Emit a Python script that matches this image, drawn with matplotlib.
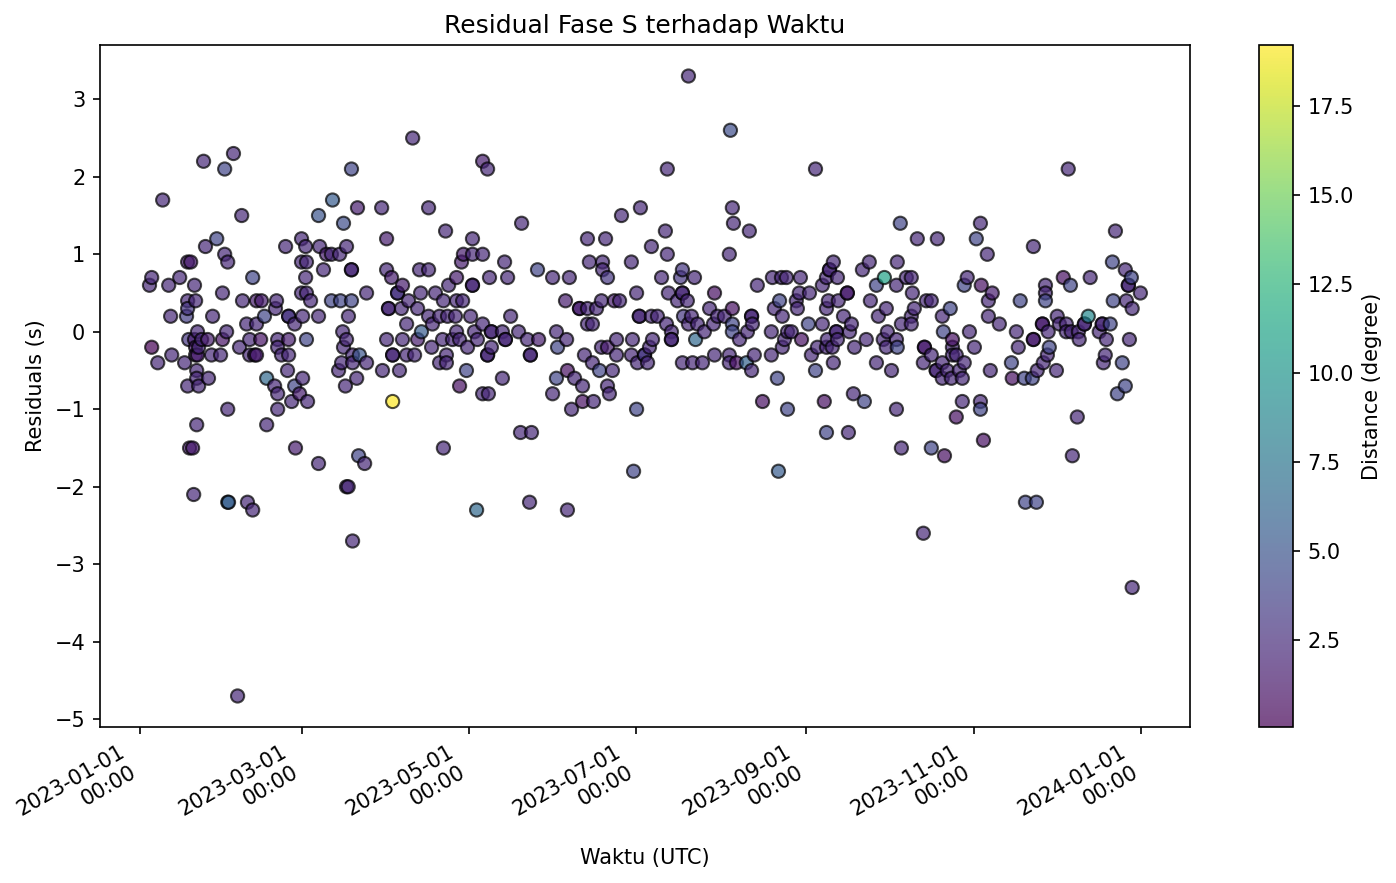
import numpy as np
import pandas as pd
import matplotlib
matplotlib.use('Agg')
import matplotlib.pyplot as plt
import matplotlib.dates as mdates

# day of year 2023 (days after 2023-01-01 00:00), residual (s), epicentral distance (deg)
# january - mid february
jf_day = [34.2, 23.3, 31.0, 8.4, 37.2, 28.1, 24.0, 31.0, 32.1, 17.5,
          18.6, 4.4, 3.6, 14.6, 10.6, 20.0, 41.2, 30.2, 17.5, 20.4,
          37.5, 42.6, 44.4, 17.5, 17.1, 11.3, 26.6, 45.5, 39.0, 42.6,
          21.1, 31.7, 17.9, 24.8, 30.2, 40.1, 44.1, 4.4, 20.4, 36.4,
          11.7, 6.6, 16.4, 21.1, 26.2, 29.5, 40.1, 42.6, 41.9, 20.8,
          25.1, 20.8, 17.5, 21.5, 46.3, 32.1, 20.8, 46.3, 18.2, 19.3,
          19.7, 32.1, 32.4, 39.3, 41.2, 35.7, 20.0, 20.4, 21.5, 22.6]
jf_res = [2.3, 2.2, 2.1, 1.7, 1.5, 1.2, 1.1, 1.0, 0.9, 0.9,
          0.9, 0.7, 0.6, 0.7, 0.6, 0.6, 0.7, 0.5, 0.4, 0.4,
          0.4, 0.4, 0.4, 0.3, 0.2, 0.2, 0.2, 0.2, 0.1, 0.1,
          0.0, 0.0, -0.1, -0.1, -0.1, -0.1, -0.1, -0.2, -0.2, -0.2,
          -0.3, -0.4, -0.4, -0.3, -0.3, -0.3, -0.3, -0.3, -0.3, -0.5,
          -0.6, -0.6, -0.7, -0.7, -0.6, -1.0, -1.2, -1.2, -1.5, -1.5,
          -2.1, -2.2, -2.2, -2.2, -2.3, -4.7, -0.1, -0.3, -0.2, -0.1]
jf_dist = [2.2, 2.2, 4.0, 2.2, 2.2, 4.0, 2.2, 2.2, 2.2, 1.5,
           1.5, 2.2, 2.2, 2.2, 2.2, 2.2, 4.0, 2.2, 2.2, 2.2,
           2.2, 1.5, 1.5, 3.0, 3.5, 2.2, 2.2, 4.0, 2.2, 2.2,
           2.2, 2.2, 3.0, 1.5, 1.0, 2.2, 1.0, 0.05, 1.5, 2.2,
           2.2, 2.2, 2.2, 1.5, 2.2, 2.2, 2.2, 1.5, 1.5, 2.2,
           2.2, 2.2, 2.2, 2.2, 6.5, 2.2, 2.2, 2.2, 1.5, 1.5,
           2.2, 6.5, 5.5, 2.2, 2.2, 2.2, 1.5, 1.5, 2.2, 2.2]

# mid february - april
fa_day = [99.5, 77.2, 70.3, 79.4, 88.2, 105.3, 65.2, 74.3, 111.5, 59.0,
          90.0, 53.2, 60.5, 65.6, 75.4, 68.1, 69.9, 72.9, 59.0, 60.8,
          67.0, 77.2, 77.2, 90.0, 102.0, 105.3, 60.5, 91.8, 95.8, 94.0,
          94.0, 59.0, 60.8, 82.7, 102.4, 107.8, 49.9, 62.3, 69.9, 73.2,
          77.2, 98.0, 110.7, 90.7, 90.7, 95.4, 101.3, 49.5, 54.3, 54.3,
          59.4, 65.2, 76.1, 105.3, 109.3, 112.2, 56.5, 97.3, 106.7, 74.0,
          102.7, 50.3, 54.3, 60.8, 75.4, 90.0, 95.8, 101.3, 110.4, 50.3,
          74.3, 106.4, 51.7, 54.3, 77.6, 80.1, 92.2, 92.2, 97.3, 100.2,
          73.6, 77.6, 82.7, 109.3, 53.9, 72.5, 88.5, 94.7, 59.4, 79.1,
          49.2, 56.5, 75.0, 50.3, 58.3, 55.4, 61.2, 92.2, 50.3, 56.8,
          110.7, 65.2, 79.8, 82.0, 75.4, 76.0, 77.6]
fa_res = [2.5, 2.1, 1.7, 1.6, 1.6, 1.6, 1.5, 1.4, 1.3, 1.2,
          1.2, 1.1, 1.1, 1.1, 1.1, 1.0, 1.0, 1.0, 0.9, 0.9,
          0.8, 0.8, 0.8, 0.8, 0.8, 0.8, 0.7, 0.7, 0.6, 0.5,
          0.5, 0.5, 0.5, 0.5, 0.5, 0.5, 0.4, 0.4, 0.4, 0.4,
          0.4, 0.4, 0.4, 0.3, 0.3, 0.3, 0.3, 0.3, 0.2, 0.2,
          0.2, 0.2, 0.2, 0.2, 0.2, 0.2, 0.1, 0.1, 0.1, 0.0,
          0.0, -0.1, -0.1, -0.1, -0.1, -0.1, -0.1, -0.1, -0.1, -0.2,
          -0.2, -0.2, -0.3, -0.3, -0.3, -0.3, -0.3, -0.3, -0.3, -0.3,
          -0.4, -0.4, -0.4, -0.4, -0.5, -0.5, -0.5, -0.5, -0.6, -0.6,
          -0.7, -0.7, -0.7, -0.8, -0.8, -0.9, -0.9, -0.9, -1.0, -1.5,
          -1.5, -1.7, -1.6, -1.7, -2.0, -2.0, -2.7]
fa_dist = [2.2, 4.0, 5.5, 1.5, 2.2, 2.2, 5.0, 4.5, 2.2, 2.2,
           1.5, 2.2, 2.2, 2.2, 2.2, 1.5, 2.2, 2.2, 2.2, 2.2,
           2.2, 2.2, 2.2, 2.2, 2.2, 2.2, 2.2, 1.5, 1.5, 2.2,
           3.0, 2.2, 2.2, 2.2, 2.2, 2.2, 2.2, 2.2, 4.0, 4.0,
           4.0, 2.2, 2.2, 2.2, 2.2, 2.2, 2.2, 2.2, 2.2, 3.0,
           2.2, 2.2, 2.2, 2.2, 2.2, 2.2, 2.2, 2.2, 2.2, 2.2,
           5.5, 2.2, 1.5, 4.0, 2.2, 2.2, 2.2, 1.5, 2.2, 2.2,
           2.2, 2.2, 2.2, 2.2, 2.2, 5.0, 2.2, 2.2, 2.2, 2.2,
           2.2, 2.2, 2.2, 2.2, 2.2, 2.2, 2.2, 2.2, 2.2, 2.2,
           2.2, 4.0, 2.2, 2.2, 1.5, 2.2, 2.2, 19.2, 2.2, 1.5,
           2.2, 2.2, 4.0, 2.2, 2.2, 2.2, 2.2]

# may - june
mj_day = [125.0, 126.8, 139.2, 121.3, 163.2, 169.8, 118.0, 121.3, 125.0, 117.3,
          133.0, 163.9, 168.7, 145.0, 168.7, 115.5, 127.5, 134.1, 150.5, 156.6,
          170.5, 112.6, 121.3, 121.3, 115.5, 117.7, 155.2, 168.3, 173.0, 160.3,
          160.3, 163.2, 166.5, 115.1, 120.6, 135.2, 125.0, 163.2, 165.0, 115.5,
          122.0, 128.2, 128.2, 132.2, 138.1, 151.9, 114.0, 116.6, 123.1, 133.3,
          133.3, 141.3, 145.4, 155.6, 119.5, 128.2, 152.3, 168.3, 170.5, 126.8,
          126.8, 142.4, 142.4, 162.1, 111.8, 111.8, 165.0, 119.1, 155.9, 167.6,
          172.3, 116.6, 132.2, 151.9, 158.5, 161.4, 170.5, 125.0, 127.1, 150.5,
          171.2, 161.4, 165.4, 157.4, 138.8, 142.8, 122.8, 142.1, 155.9]
mj_res = [2.2, 2.1, 1.4, 1.2, 1.2, 1.2, 1.0, 1.0, 1.0, 0.9,
          0.9, 0.9, 0.9, 0.8, 0.8, 0.7, 0.7, 0.7, 0.7, 0.7,
          0.7, 0.6, 0.6, 0.6, 0.4, 0.4, 0.4, 0.4, 0.4, 0.3,
          0.3, 0.3, 0.3, 0.2, 0.2, 0.2, 0.1, 0.1, 0.1, 0.0,
          0.0, 0.0, 0.0, 0.0, 0.0, 0.0, -0.1, -0.1, -0.1, -0.1,
          -0.1, -0.1, -0.1, -0.1, -0.2, -0.2, -0.2, -0.2, -0.2, -0.3,
          -0.3, -0.3, -0.3, -0.3, -0.3, -0.4, -0.4, -0.5, -0.5, -0.5,
          -0.5, -0.7, -0.6, -0.6, -0.6, -0.7, -0.7, -0.8, -0.8, -0.8,
          -0.8, -0.9, -0.9, -1.0, -1.3, -1.3, -2.3, -2.2, -2.3]
mj_dist = [1.5, 2.2, 2.2, 2.2, 2.2, 2.2, 1.5, 2.2, 2.2, 1.5,
           2.2, 2.2, 2.2, 4.0, 2.2, 1.5, 2.2, 2.2, 2.2, 2.2,
           3.0, 2.2, 2.2, 2.2, 2.2, 2.2, 1.5, 2.2, 1.5, 2.2,
           1.5, 2.2, 2.2, 2.2, 2.2, 2.2, 2.2, 2.2, 2.2, 2.2,
           2.2, 2.2, 2.2, 2.2, 2.2, 2.2, 2.2, 2.2, 2.2, 2.2,
           2.2, 2.2, 1.5, 2.2, 2.2, 2.2, 4.0, 2.2, 1.5, 2.2,
           2.2, 2.2, 2.2, 2.2, 2.2, 2.2, 2.2, 4.0, 0.8, 4.0,
           2.2, 0.8, 2.2, 4.0, 2.2, 2.2, 2.2, 2.2, 2.2, 2.2,
           2.2, 0.8, 2.2, 2.2, 2.2, 2.2, 6.5, 2.2, 2.2]

# july - august
ja_day = [215.3, 192.3, 175.6, 182.5, 216.0, 216.4, 222.2, 191.6, 186.5, 192.3,
          214.9, 179.2, 190.2, 197.8, 197.1, 202.2, 225.1, 230.6, 233.9, 235.7,
          181.1, 192.7, 197.8, 197.8, 209.5, 174.9, 196.0, 199.6, 233.2, 207.7,
          216.0, 231.3, 182.1, 182.1, 186.5, 188.7, 198.2, 201.1, 210.6, 213.1,
          223.0, 223.0, 234.2, 192.0, 200.0, 203.3, 209.1, 216.0, 223.3, 193.8,
          205.8, 216.0, 221.5, 230.2, 236.1, 173.8, 179.6, 186.9, 193.8, 193.8,
          202.6, 218.6, 235.0, 185.8, 234.2, 173.8, 179.2, 184.0, 184.0, 209.5,
          214.9, 224.0, 230.2, 181.4, 185.1, 197.8, 201.5, 205.1, 214.9, 217.5,
          221.1, 223.0, 232.4, 227.0, 181.1, 236.1, 180.0, 232.8, 200.0]
ja_res = [2.6, 2.1, 1.5, 1.6, 1.6, 1.4, 1.3, 1.3, 1.1, 1.0,
          1.0, 0.9, 0.7, 0.8, 0.7, 0.7, 0.6, 0.7, 0.7, 0.7,
          0.5, 0.5, 0.5, 0.5, 0.5, 0.4, 0.4, 0.4, 0.4, 0.3,
          0.3, 0.3, 0.2, 0.2, 0.2, 0.2, 0.2, 0.2, 0.2, 0.2,
          0.2, 0.2, 0.2, 0.1, 0.1, 0.1, 0.1, 0.1, 0.1, 0.0,
          0.0, 0.0, 0.0, 0.0, 0.0, -0.1, -0.1, -0.1, -0.1, -0.1,
          -0.1, -0.1, -0.1, -0.2, -0.2, -0.3, -0.3, -0.3, -0.3, -0.3,
          -0.3, -0.3, -0.3, -0.4, -0.4, -0.4, -0.4, -0.4, -0.4, -0.4,
          -0.4, -0.5, -0.6, -0.9, -1.0, -1.0, -1.8, -1.8, 3.3]
ja_dist = [4.5, 2.2, 2.2, 2.2, 2.2, 2.2, 2.2, 2.2, 2.2, 2.2,
           2.2, 2.2, 2.2, 3.0, 3.0, 2.2, 2.2, 2.2, 2.2, 2.2,
           2.2, 2.2, 2.2, 2.2, 0.8, 2.2, 2.2, 2.2, 4.0, 2.2,
           0.8, 2.2, 2.2, 2.2, 2.2, 2.2, 3.0, 2.2, 2.2, 2.2,
           2.2, 2.2, 2.2, 2.2, 2.2, 2.2, 2.2, 4.0, 2.2, 2.2,
           2.2, 4.0, 2.2, 2.2, 2.2, 2.2, 2.2, 2.2, 2.2, 2.2,
           6.5, 2.2, 2.2, 2.2, 2.2, 2.2, 2.2, 3.0, 3.0, 2.2,
           2.2, 2.2, 2.2, 2.2, 2.2, 2.2, 2.2, 2.2, 2.2, 0.8,
           6.0, 2.2, 4.0, 0.8, 4.0, 4.0, 4.0, 5.5, 2.2]

# september - october
so_day = [246.3, 277.2, 283.4, 290.7, 252.8, 265.9, 276.1, 251.4, 251.4, 263.4,
          240.8, 250.3, 254.3, 271.4, 279.4, 281.2, 248.8, 268.5, 275.8, 240.4,
          244.1, 257.9, 257.9, 281.6, 239.3, 251.0, 254.6, 266.3, 286.7, 288.5,
          239.7, 250.3, 272.1, 282.3, 295.4, 256.5, 269.2, 281.2, 292.5, 243.7,
          248.8, 259.4, 277.6, 281.2, 253.9, 253.9, 258.7, 272.5, 292.9, 237.5,
          241.2, 250.6, 254.3, 264.8, 271.0, 275.8, 247.0, 250.3, 252.4, 260.5,
          272.1, 276.1, 286.0, 286.0, 296.2, 244.8, 288.5, 246.3, 252.8, 268.5,
          274.0, 285.6, 290.3, 290.3, 292.5, 294.3, 292.5, 295.8, 260.1, 264.1,
          249.5, 275.8, 297.6, 250.3, 258.3, 277.6, 288.5, 293.3, 285.6]
so_res = [2.1, 1.4, 1.2, 1.2, 0.9, 0.9, 0.9, 0.8, 0.8, 0.8,
          0.7, 0.7, 0.7, 0.7, 0.7, 0.7, 0.6, 0.6, 0.6, 0.5,
          0.5, 0.5, 0.5, 0.5, 0.4, 0.4, 0.4, 0.4, 0.4, 0.4,
          0.3, 0.3, 0.3, 0.3, 0.3, 0.2, 0.2, 0.2, 0.2, 0.1,
          0.1, 0.1, 0.1, 0.1, 0.0, 0.0, 0.0, 0.0, 0.0, 0.0,
          -0.1, -0.1, -0.1, -0.1, -0.1, -0.1, -0.2, -0.2, -0.2, -0.2,
          -0.2, -0.2, -0.2, -0.2, -0.2, -0.3, -0.3, -0.5, -0.4, -0.4,
          -0.5, -0.4, -0.5, -0.5, -0.4, -0.5, -0.6, -0.6, -0.8, -0.9,
          -0.9, -1.0, -1.1, -1.3, -1.3, -1.5, -1.5, -1.6, -2.6]
so_dist = [2.2, 4.0, 2.2, 2.2, 2.2, 2.2, 2.2, 2.2, 2.2, 2.2,
           2.2, 2.2, 2.2, 11.0, 2.2, 2.2, 2.2, 4.0, 2.2, 2.2,
           2.2, 1.5, 1.5, 2.2, 2.2, 2.2, 2.2, 2.2, 2.2, 2.2,
           2.2, 2.2, 2.2, 2.2, 4.0, 2.2, 2.2, 2.2, 2.2, 4.0,
           2.2, 2.2, 2.2, 2.2, 2.2, 2.2, 2.2, 2.2, 4.0, 2.2,
           0.8, 2.2, 2.2, 2.2, 2.2, 2.2, 2.2, 2.2, 2.2, 2.2,
           2.2, 4.0, 1.5, 1.5, 2.2, 2.2, 2.2, 4.0, 2.2, 2.2,
           2.2, 2.2, 2.2, 2.2, 2.2, 2.2, 2.2, 2.2, 2.2, 4.0,
           0.8, 2.2, 0.8, 4.0, 2.2, 2.2, 4.0, 0.8, 2.2]

# november - december
nd_day = [338.4, 306.4, 304.9, 355.6, 308.9, 325.7, 354.5, 359.2, 301.6, 300.5,
          306.7, 330.1, 336.6, 339.2, 346.4, 361.4, 360.3, 360.3, 310.7, 330.1,
          364.7, 309.3, 320.9, 330.1, 354.8, 359.6, 361.7, 309.3, 334.4, 345.7,
          313.3, 329.0, 329.0, 335.2, 337.7, 344.3, 344.3, 350.8, 350.8, 353.7,
          302.4, 319.5, 331.1, 337.7, 339.5, 342.1, 349.7, 296.2, 325.7, 325.7,
          342.4, 352.3, 360.7, 304.2, 320.2, 331.5, 296.2, 297.6, 330.8, 351.9,
          300.5, 317.7, 329.3, 351.2, 358.1, 298.7, 310.0, 327.1, 334.1, 299.8,
          318.0, 322.4, 325.3, 359.2, 356.3, 299.8, 306.4, 306.4, 341.7, 307.5,
          339.9, 322.8, 326.8, 361.7]
nd_res = [2.1, 1.4, 1.2, 1.3, 1.0, 1.1, 0.9, 0.8, 0.7, 0.6,
          0.6, 0.6, 0.7, 0.6, 0.7, 0.7, 0.6, 0.6, 0.5, 0.5,
          0.5, 0.4, 0.4, 0.4, 0.4, 0.4, 0.3, 0.2, 0.2, 0.2,
          0.1, 0.1, 0.1, 0.1, 0.1, 0.1, 0.1, 0.1, 0.1, 0.1,
          0.0, 0.0, 0.0, 0.0, 0.0, 0.0, 0.0, -0.1, -0.1, -0.1,
          -0.1, -0.1, -0.1, -0.2, -0.2, -0.2, -0.3, -0.3, -0.3, -0.3,
          -0.4, -0.4, -0.4, -0.4, -0.4, -0.5, -0.5, -0.5, -0.5, -0.6,
          -0.6, -0.6, -0.6, -0.7, -0.8, -0.9, -0.9, -1.0, -1.1, -1.4,
          -1.6, -2.2, -2.2, -3.3]
nd_dist = [2.2, 2.2, 4.0, 2.2, 2.2, 2.2, 4.0, 2.2, 2.2, 4.0,
           0.8, 2.2, 0.8, 4.0, 2.2, 4.0, 2.2, 2.2, 1.5, 2.2,
           2.2, 2.2, 4.0, 4.0, 4.0, 2.2, 2.2, 2.2, 2.2, 9.0,
           2.2, 1.5, 1.5, 2.2, 2.2, 2.2, 2.2, 2.2, 2.2, 4.0,
           2.2, 2.2, 2.2, 2.2, 2.2, 2.2, 2.2, 0.8, 1.5, 1.5,
           2.2, 2.2, 2.2, 2.2, 2.2, 4.0, 2.2, 2.2, 2.2, 2.2,
           2.2, 4.0, 2.2, 2.2, 4.0, 2.2, 2.2, 2.2, 2.2, 2.2,
           0.8, 4.0, 4.0, 4.0, 4.0, 2.2, 2.2, 4.0, 2.2, 0.8,
           2.2, 4.0, 4.0, 2.2]

day_of_year = np.concatenate([jf_day, fa_day, mj_day, ja_day, so_day, nd_day])
residual_s = np.concatenate([jf_res, fa_res, mj_res, ja_res, so_res, nd_res])
distance_deg = np.concatenate([jf_dist, fa_dist, mj_dist, ja_dist, so_dist, nd_dist])
assert len(day_of_year) == len(residual_s) == len(distance_deg)

order = np.argsort(day_of_year, kind='stable')
waktu = pd.Timestamp('2023-01-01') + pd.to_timedelta(day_of_year[order], unit='D')

fig = plt.figure(figsize=(1396 / 150, 883 / 150), dpi=150)
ax = fig.add_axes([0.0716, 0.1767, 0.7808, 0.7723])
cax = fig.add_axes([0.9019, 0.1767, 0.0244, 0.7723])

sc = ax.scatter(waktu, residual_s[order], c=distance_deg[order], cmap='viridis',
                alpha=0.7, edgecolors='k', s=40)
cb = fig.colorbar(sc, cax=cax)
cb.set_label('Distance (degree)')

ax.set_title('Residual Fase S terhadap Waktu')
ax.set_xlabel('Waktu (UTC)')
ax.set_ylabel('Residuals (s)')
ax.xaxis.set_major_locator(mdates.MonthLocator(bymonth=[1, 3, 5, 7, 9, 11]))
ax.xaxis.set_major_formatter(mdates.DateFormatter('%Y-%m-%d\n%H:%M'))
plt.setp(ax.get_xticklabels(), rotation=30, ha='right')

fig.savefig('out.png', dpi=150)
